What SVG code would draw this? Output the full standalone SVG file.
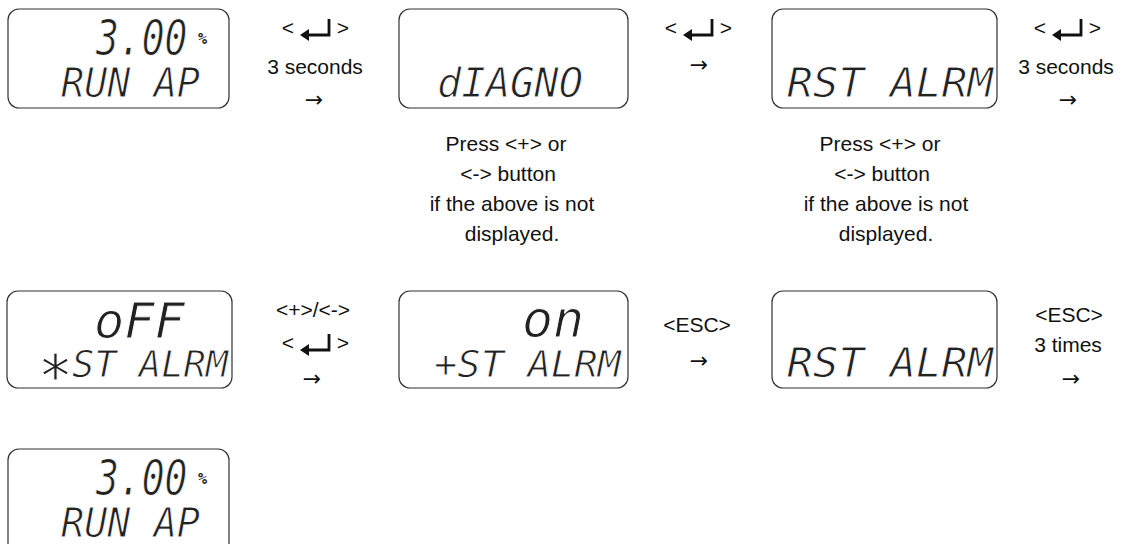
<svg xmlns="http://www.w3.org/2000/svg" width="1128" height="544" viewBox="0 0 1128 544">
<style>
.box{fill:#fff;stroke:#333;stroke-width:1.2}
.lcd{font-family:"DejaVu Sans Mono",monospace;font-style:oblique;fill:#222;stroke:#fff;stroke-width:0.9}
.big{font-size:38px;stroke-width:0.7}
.pct{font-family:"DejaVu Sans Mono",monospace;font-weight:bold;font-size:15px;fill:#222}
.lbl{font-family:"Liberation Sans",Arial,sans-serif;font-size:21px;fill:#111;text-anchor:middle}
.note{font-family:"Liberation Sans",Arial,sans-serif;font-size:21px;fill:#111;text-anchor:middle}
.arr{font-family:"DejaVu Sans","Liberation Sans",sans-serif;font-size:22px;fill:#111;text-anchor:middle}
.ent{fill:none;stroke:#111;stroke-width:2.8}
</style>
<defs>
<g id="enter">
<path class="ent" d="M14 -11 V5 H-8"/>
<polygon points="-15,5 -6,-1 -6,11" fill="#111"/>
</g>
</defs>
<rect width="1128" height="544" fill="#fff"/>

<g id="node1">
<rect class="box" x="8" y="9" width="221" height="99" rx="11"/>
<text class="lcd big" transform="translate(96,55) scale(1,1.32)">3.00</text>
<text class="pct" x="198" y="44">%</text>
<text class="lcd" x="61" y="97" font-size="40" textLength="139" lengthAdjust="spacingAndGlyphs">RUN AP</text>
</g>

<g id="node2">
<rect class="box" x="399" y="9" width="229" height="99" rx="11"/>
<text class="lcd" x="437" y="97" font-size="40" textLength="146" lengthAdjust="spacingAndGlyphs">dIAGNO</text>
</g>

<g id="node3">
<rect class="box" x="772" y="9" width="225" height="99" rx="11"/>
<text class="lcd" x="787" y="97" font-size="40" textLength="206" lengthAdjust="spacingAndGlyphs">RST ALRM</text>
</g>

<g id="node4">
<rect class="box" x="7" y="291" width="225" height="97" rx="11"/>
<text class="lcd big" transform="translate(94,338) scale(1.32,1.32)" font-size="36px">oFF</text>
<text class="lcd"><tspan x="38" y="397" font-size="58">*</tspan><tspan x="72" y="377" font-size="38" textLength="156" lengthAdjust="spacingAndGlyphs">ST ALRM</tspan></text>
</g>

<g id="node5">
<rect class="box" x="399" y="291" width="229" height="97" rx="11"/>
<text class="lcd big" transform="translate(522,337) scale(1.32,1.32)" style="font-size:39px">on</text>
<text class="lcd" x="434" y="377" font-size="38" textLength="187" lengthAdjust="spacingAndGlyphs">+ST ALRM</text>
</g>

<g id="node6">
<rect class="box" x="772" y="291" width="225" height="97" rx="11"/>
<text class="lcd" x="787" y="377" font-size="40" textLength="206" lengthAdjust="spacingAndGlyphs">RST ALRM</text>
</g>

<g id="node7">
<rect class="box" x="8" y="449" width="221" height="110" rx="11"/>
<text class="lcd big" transform="translate(96,495) scale(1,1.32)">3.00</text>
<text class="pct" x="198" y="484">%</text>
<text class="lcd" x="61" y="537" font-size="40" textLength="139" lengthAdjust="spacingAndGlyphs">RUN AP</text>
</g>

<g id="connectors">
<g id="c1">
<text class="lbl" x="288" y="35">&lt;</text><use href="#enter" x="315" y="30"/><text class="lbl" x="343" y="35">&gt;</text>
<text class="lbl" x="315" y="74">3 seconds</text>
<text class="arr" x="314" y="107">→</text>
</g>
<g id="c2">
<text class="lbl" x="671" y="35">&lt;</text><use href="#enter" x="698" y="30"/><text class="lbl" x="726" y="35">&gt;</text>
<text class="arr" x="699" y="72">→</text>
</g>
<g id="c3">
<text class="lbl" x="1040" y="35">&lt;</text><use href="#enter" x="1067" y="30"/><text class="lbl" x="1095" y="35">&gt;</text>
<text class="lbl" x="1066" y="74">3 seconds</text>
<text class="arr" x="1068" y="107">→</text>
</g>
<g id="c4">
<text class="lbl" x="313" y="317">&lt;+&gt;/&lt;-&gt;</text>
<text class="lbl" x="288" y="350">&lt;</text><use href="#enter" x="315" y="345"/><text class="lbl" x="343" y="350">&gt;</text>
<text class="arr" x="312" y="386">→</text>
</g>
<g id="c5">
<text class="lbl" x="697" y="332">&lt;ESC&gt;</text>
<text class="arr" x="699" y="368">→</text>
</g>
<g id="c6">
<text class="lbl" x="1069" y="322">&lt;ESC&gt;</text>
<text class="lbl" x="1068" y="352">3 times</text>
<text class="arr" x="1071" y="386">→</text>
</g>
</g>

<g id="note1">
<text class="note" x="506" y="151">Press &lt;+&gt; or</text>
<text class="note" x="508" y="181">&lt;-&gt; button</text>
<text class="note" x="512" y="211">if the above is not</text>
<text class="note" x="512" y="241">displayed.</text>
</g>
<g id="note2">
<text class="note" x="880" y="151">Press &lt;+&gt; or</text>
<text class="note" x="882" y="181">&lt;-&gt; button</text>
<text class="note" x="886" y="211">if the above is not</text>
<text class="note" x="886" y="241">displayed.</text>
</g>
</svg>
